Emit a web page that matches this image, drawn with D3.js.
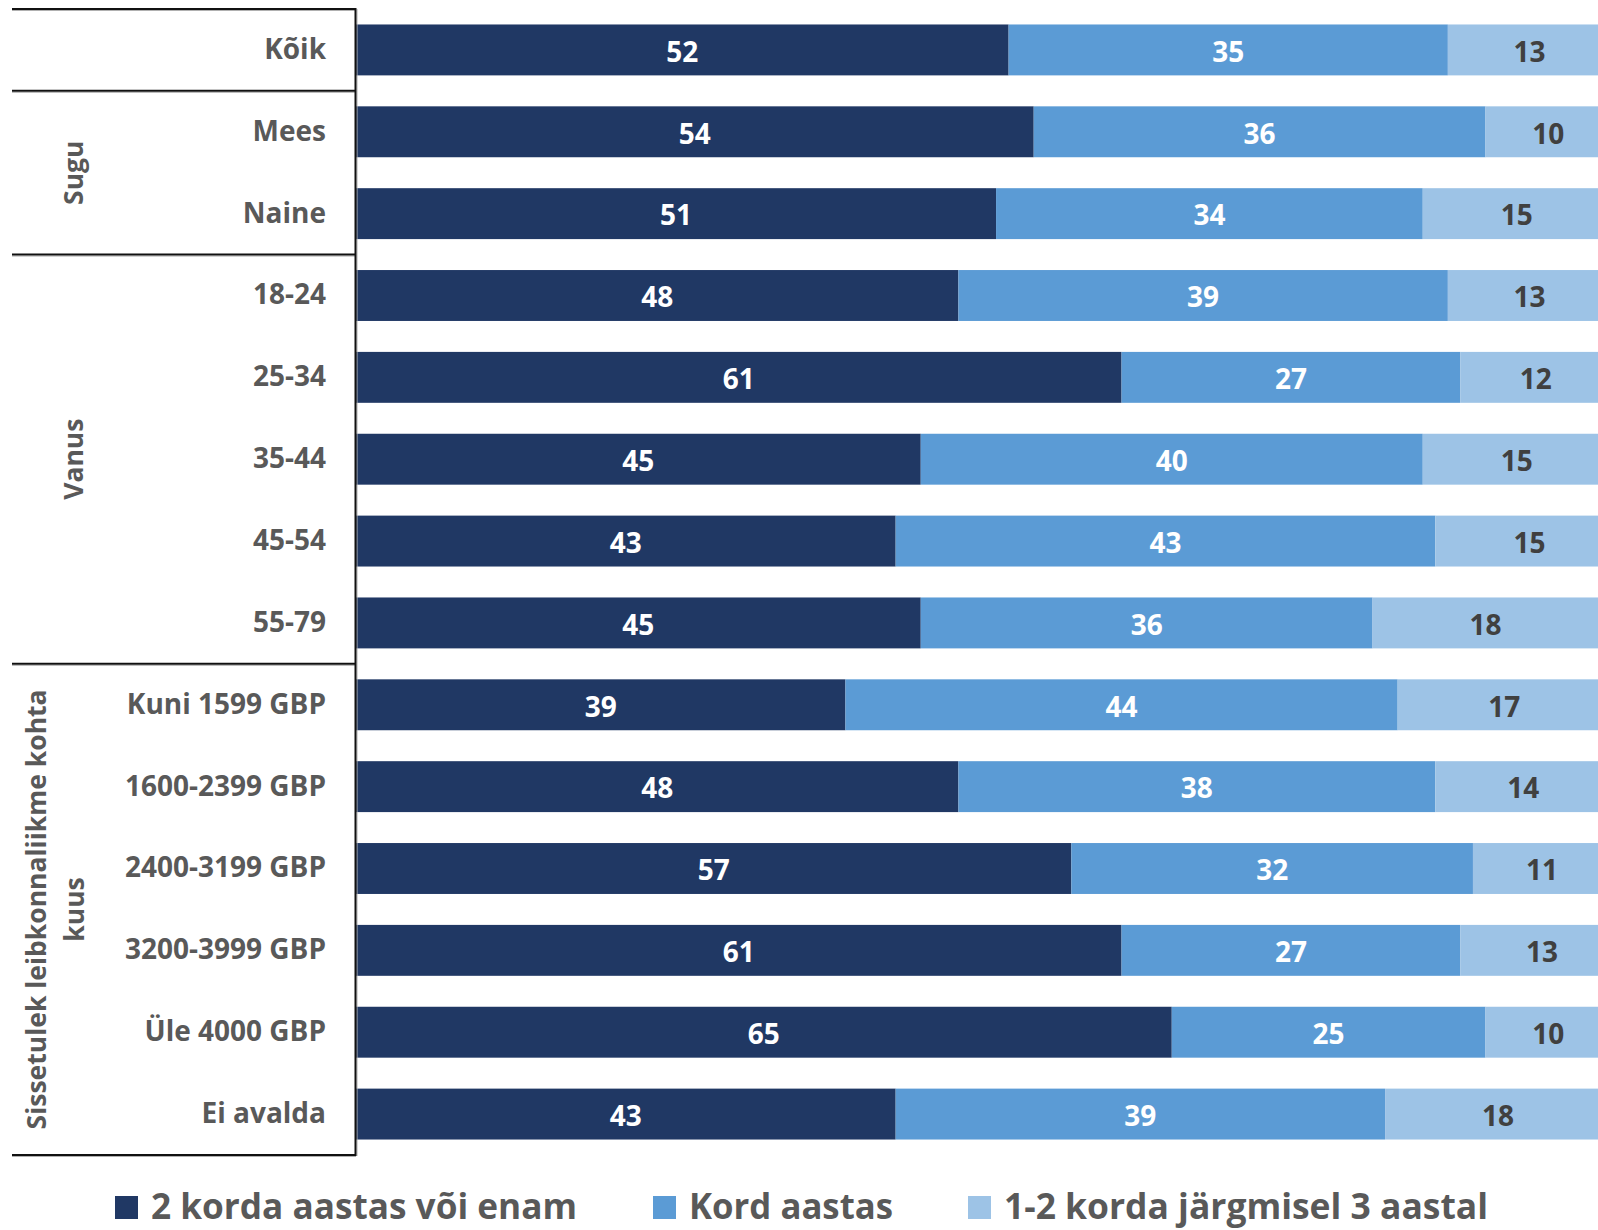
<!DOCTYPE html>
<html>
<head>
<meta charset="utf-8">
<script src="https://cdn.jsdelivr.net/npm/d3@7"></script>
<style>
  html, body { margin: 0; padding: 0; background: #fff; }
  svg { display: block; }
  text { font-family: "Open Sans", "DejaVu Sans", sans-serif; font-weight: 700; }
</style>
</head>
<body>
<svg id="chart" width="1598" height="1230"></svg>
<script>
// ---- data ----
const categories = ["Kõik", "Mees", "Naine", "18-24", "25-34", "35-44", "45-54", "55-79",
  "Kuni 1599 GBP", "1600-2399 GBP", "2400-3199 GBP", "3200-3999 GBP", "Üle 4000 GBP", "Ei avalda"];
const seriesNames = ["2 korda aastas või enam", "Kord aastas", "1-2 korda järgmisel 3 aastal"];
const twiceOrMore = [52, 54, 51, 48, 61, 45, 43, 45, 39, 48, 57, 61, 65, 43];
const oncePerYear = [35, 36, 34, 39, 27, 40, 43, 36, 44, 38, 32, 27, 25, 39];
const nextThreeYears = [13, 10, 15, 13, 12, 15, 15, 18, 17, 14, 11, 13, 10, 18];
const groupNames = [[""], ["Sugu"], ["Vanus"], ["Sissetulek leibkonnaliikme kohta", "kuus"]];
const groupSizes = [1, 2, 5, 6];

// ---- styles ----
const colors = ["#203864", "#5B9BD5", "#9DC3E6"];
const labelColors = ["#ffffff", "#ffffff", "#404040"];
const gray = "#595959";

const svg = d3.select("#chart");

const y = d3.scaleBand().domain(categories).range([9, 1155])
  .paddingInner(31 / 82).paddingOuter(15.5 / 82);
const x = d3.scaleLinear().domain([0, 100]).range([356, 1611]);

const series = [twiceOrMore, oncePerYear, nextThreeYears];
const rows = categories.map((c, i) => {
  let acc = 0;
  return series.map((s, k) => {
    const seg = { cat: c, k, v: s[i], x0: acc, x1: acc + s[i] };
    acc += s[i];
    return seg;
  });
});
const segs = rows.flat();

const gBars = svg.append("g");
gBars.selectAll("rect").data(segs).join("rect")
  .attr("x", d => x(d.x0))
  .attr("y", d => y(d.cat))
  .attr("width", d => x(d.x1) - x(d.x0))
  .attr("height", y.bandwidth())
  .attr("fill", d => colors[d.k]);

gBars.selectAll("text").data(segs).join("text")
  .attr("x", d => (x(d.x0) + x(d.x1)) / 2)
  .attr("y", d => y(d.cat) + y.bandwidth() / 2)
  .attr("dy", "0.42em")
  .attr("text-anchor", "middle")
  .attr("font-size", 28)
  .attr("fill", d => labelColors[d.k])
  .text(d => d.v);

// ---- category axis ----
const yAxis = d3.axisLeft(y).tickSize(0).tickPadding(30);
const gAxis = svg.append("g").attr("transform", "translate(356,0)").call(yAxis);
gAxis.select(".domain").remove();
gAxis.selectAll("text")
  .attr("font-size", 28)
  .attr("fill", gray)
  .attr("font-family", "'Open Sans', sans-serif")
  .attr("font-weight", 700);

// group separator lines
const step = y.step();
let boundaries = [0];
groupSizes.reduce((a, n) => { boundaries.push(a + n); return a + n; }, 0);
const y0 = y.range()[0];
const lines = svg.append("g");
boundaries.forEach(b => {
  const yy = y0 + b * step;
  lines.append("line").attr("x1", 12).attr("x2", 356).attr("y1", yy + 1.5).attr("y2", yy + 1.5)
    .attr("stroke", "#b0b0b0").attr("stroke-width", 1);
  lines.append("line").attr("x1", 12).attr("x2", 356).attr("y1", yy).attr("y2", yy)
    .attr("stroke", "#111").attr("stroke-width", 2);
});
lines.append("line").attr("x1", 357).attr("x2", 357).attr("y1", y0).attr("y2", y0 + 14 * step + 1)
  .attr("stroke", "#b0b0b0").attr("stroke-width", 1);
lines.append("line").attr("x1", 355.5).attr("x2", 355.5).attr("y1", y0 - 1).attr("y2", y0 + 14 * step + 1)
  .attr("stroke", "#111").attr("stroke-width", 2);

// group labels (rotated)
groupNames.forEach((names, gi) => {
  const cy = y0 + (boundaries[gi] + boundaries[gi + 1]) / 2 * step;
  const n = names.length;
  names.forEach((nm, li) => {
    const cx = n === 1 ? 73 : 36 + li * 38.5;
    svg.append("text")
      .attr("transform", `translate(${cx},${cy}) rotate(-90)`)
      .attr("text-anchor", "middle")
      .attr("dy", "0.36em")
      .attr("font-size", 26.5)
      .attr("fill", gray)
      .text(nm);
  });
});

// ---- legend ----
const legendPos = [
  { sx: 115, tx: 151, tw: 426 },
  { sx: 653, tx: 689, tw: 204 },
  { sx: 968, tx: 1004, tw: 484 }
];
const gLeg = svg.append("g");
seriesNames.forEach((nm, i) => {
  const p = legendPos[i];
  gLeg.append("rect").attr("x", p.sx).attr("y", 1196).attr("width", 23).attr("height", 23)
    .attr("fill", colors[i]);
  gLeg.append("text").attr("x", p.tx).attr("y", 1219)
    .attr("font-size", 36)
    .attr("fill", gray)
    .attr("textLength", p.tw)
    .attr("lengthAdjust", "spacingAndGlyphs")
    .text(nm);
});
</script>
</body>
</html>
